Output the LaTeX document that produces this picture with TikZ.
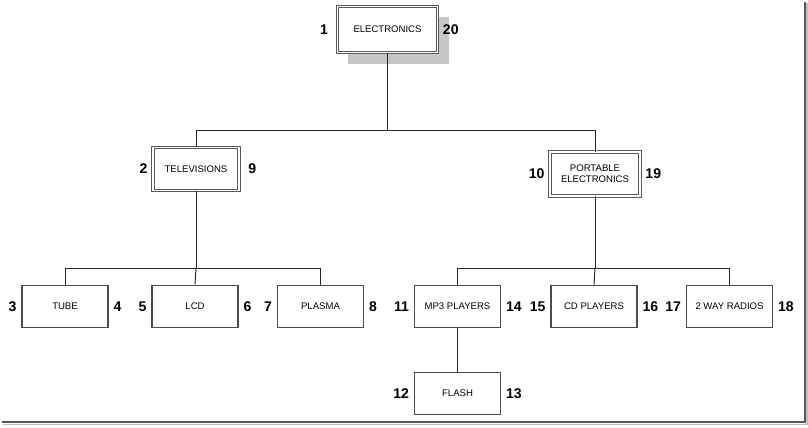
\documentclass[tikz,border=0pt]{standalone}
\usepackage{fontspec}
\setmainfont{Liberation Sans}
\usetikzlibrary{positioning, backgrounds}

\begin{document}
\begin{tikzpicture}[
    x=0.025cm, y=-0.025cm,
    node distance=0.1cm and 0.1cm,
    box/.style={draw=black!70, line width=0.8pt, fill=white, minimum width=2.15cm,
                minimum height=1.07cm, align=center, font=\fontsize{6.8}{8}\selectfont},
    dbox/.style={box, draw=black!65, line width=0.7pt, double=white, double distance=1.1pt},
    num/.style={font=\fontsize{10}{12}\selectfont\bfseries, inner sep=0.5pt},
    link/.style={line width=0.7pt, black!85}
]
    \useasboundingbox (0,0) rectangle (808,427);

    % top level
    \node[dbox, minimum width=2.5cm, minimum height=1.15cm] (elec) at (387.5,29.5) {ELECTRONICS};
    \begin{scope}[on background layer]
        \fill[black!22] ([shift={(11,11)}]elec.north west) rectangle ([shift={(11,11)}]elec.south east);
    \end{scope}
    \node[dbox] (tv) at (196,169) {TELEVISIONS};
    \node[dbox, minimum width=2.25cm, minimum height=1.1cm] (pe) at (595,174) {PORTABLE\\ELECTRONICS};

    % leaves
    \node[box] (tube)   at (65,306.5)    {TUBE};
    \node[box] (lcd)    at (195,306.5)   {LCD};
    \node[box] (plasma) at (320.5,306.5) {PLASMA};
    \node[box] (mp3)    at (457.5,306.5) {MP3 PLAYERS};
    \node[box] (cd)     at (594,306.5)   {CD PLAYERS};
    \node[box] (radio)  at (729.5,306.5) {2 WAY RADIOS};
    \node[box] (flash)  at (457.5,393.5) {FLASH};

    % numbers
    \node[num, left=0.2cm of elec] (n1)  {1};
    \node[num, right=of elec]      (n20) {20};
    \node[num, left=of tv]         (n2)  {2};
    \node[num, right=0.2cm of tv]  (n9)  {9};
    \node[num, left=of pe]         (n10) {10};
    \node[num, right=of pe]        (n19) {19};
    \node[num, left=of tube]       (n3)  {3};
    \node[num, right=of tube]      (n4)  {4};
    \node[num, left=of lcd]        (n5)  {5};
    \node[num, right=of lcd]       (n6)  {6};
    \node[num, left=of plasma]     (n7)  {7};
    \node[num, right=of plasma]    (n8)  {8};
    \node[num, left=of mp3]        (n11) {11};
    \node[num, right=of mp3]       (n14) {14};
    \node[num, left=of cd]         (n15) {15};
    \node[num, right=of cd]        (n16) {16};
    \node[num, left=of radio]      (n17) {17};
    \node[num, right=of radio]     (n18) {18};
    \node[num, left=of flash]      (n12) {12};
    \node[num, right=of flash]     (n13) {13};

    % connectors
    \coordinate (busA) at (elec.south |- 0,130);
    \coordinate (busB) at (tv.south |- 0,268);
    \coordinate (busC) at (pe.south |- 0,268);
    \draw[link] (elec.south) -- (busA) -| (tv.north);
    \draw[link] (busA) -| (pe.north);
    \draw[link] (tv.south) -- (busB) -| (tube.north);
    \draw[link] (busB) -- (lcd.north);
    \draw[link] (busB) -| (plasma.north);
    \draw[link] (pe.south) -- (busC) -| (mp3.north);
    \draw[link] (busC) -- (cd.north);
    \draw[link] (busC) -| (radio.north);
    \draw[link] (mp3.south) -- (flash.north);

    % frame shadow
    \draw[black!65, line width=1.3pt] (2,422) -- (805,422) -- (805,2);
    \draw[black!25, line width=0.8pt] (3,424.5) -- (807,424.5) -- (807,3);
\end{tikzpicture}
\end{document}
